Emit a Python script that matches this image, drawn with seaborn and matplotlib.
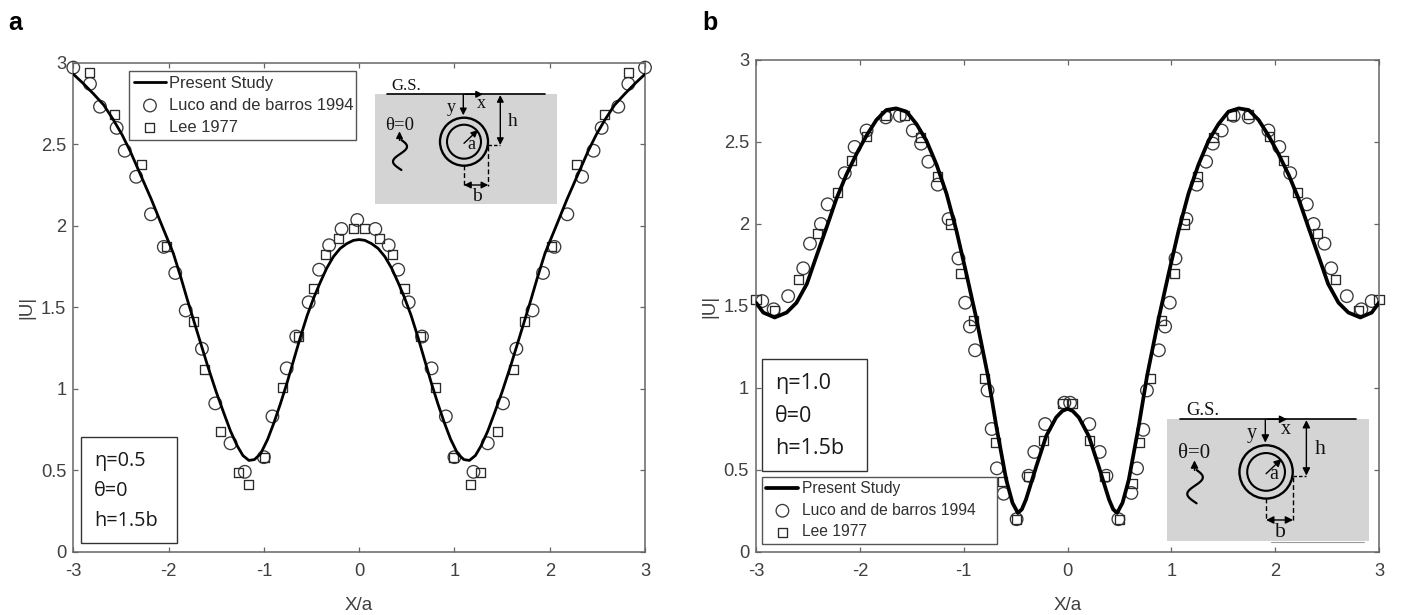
import numpy as np
import pandas as pd
import seaborn as sns
import matplotlib.pyplot as plt
from matplotlib.patches import Rectangle, Circle

W, H = 1401, 615

# panel a
a_line_x = [-3, -2.9, -2.79, -2.68, -2.58, -2.49, -2.405, -2.27, -2.18, -2.09, -1.95, -1.87, -1.8, -1.69, -1.59, -1.5, -1.42, -1.35, -1.28, -1.22, -1.157, -1.1, -1.035, -0.96, -0.895, -0.825, -0.755, -0.685, -0.615, -0.545, -0.475, -0.41, -0.34, -0.27, -0.2, -0.13, -0.06, 0,
            0.06, 0.13, 0.2, 0.27, 0.34, 0.41, 0.475, 0.545, 0.615, 0.685, 0.755, 0.825, 0.895, 0.96, 1.035, 1.1, 1.157, 1.22, 1.28, 1.35, 1.42, 1.5, 1.59, 1.69, 1.8, 1.87, 1.95, 2.09, 2.18, 2.27, 2.405, 2.49, 2.58, 2.68, 2.79, 2.9, 3]
a_line_y = [2.93, 2.875, 2.81, 2.74, 2.65, 2.56, 2.46, 2.28, 2.16, 2.03, 1.83, 1.68, 1.54, 1.33, 1.14, 0.98, 0.85, 0.74, 0.65, 0.59, 0.56, 0.565, 0.6, 0.69, 0.79, 0.91, 1.04, 1.18, 1.32, 1.45, 1.56, 1.65, 1.74, 1.81, 1.86, 1.89, 1.91, 1.915,
            1.91, 1.89, 1.86, 1.81, 1.74, 1.65, 1.56, 1.45, 1.32, 1.18, 1.04, 0.91, 0.79, 0.69, 0.6, 0.565, 0.56, 0.59, 0.65, 0.74, 0.85, 0.98, 1.14, 1.33, 1.54, 1.68, 1.83, 2.03, 2.16, 2.28, 2.46, 2.56, 2.65, 2.74, 2.81, 2.875, 2.93]
a_luco_x = [-3, -2.825, -2.72, -2.545, -2.46, -2.34, -2.185, -2.05, -1.93, -1.82, -1.65, -1.51, -1.35, -1.2, -1.0, -0.91, -0.76, -0.66, -0.53, -0.42, -0.315, -0.185, -0.02,
            0.17, 0.31, 0.41, 0.52, 0.66, 0.76, 0.91, 1.0, 1.2, 1.35, 1.51, 1.65, 1.82, 1.93, 2.05, 2.185, 2.34, 2.46, 2.545, 2.72, 2.825, 3]
a_luco_y = [2.97, 2.87, 2.73, 2.6, 2.46, 2.3, 2.07, 1.87, 1.71, 1.48, 1.245, 0.91, 0.665, 0.49, 0.58, 0.83, 1.125, 1.32, 1.53, 1.73, 1.88, 1.98, 2.035,
            1.98, 1.88, 1.73, 1.53, 1.32, 1.125, 0.83, 0.58, 0.49, 0.665, 0.91, 1.245, 1.48, 1.71, 1.87, 2.07, 2.3, 2.46, 2.6, 2.73, 2.87, 2.97]
a_lee_x = [-2.83, -2.57, -2.28, -2.02, -1.74, -1.62, -1.45, -1.27, -1.165, -0.99, -0.8, -0.64, -0.48, -0.35, -0.22, -0.06,
           0.06, 0.21, 0.35, 0.48, 0.64, 0.8, 0.99, 1.165, 1.27, 1.45, 1.62, 1.74, 2.02, 2.28, 2.57, 2.83]
a_lee_y = [2.94, 2.68, 2.375, 1.875, 1.41, 1.12, 0.74, 0.485, 0.415, 0.58, 1.01, 1.32, 1.615, 1.825, 1.92, 1.98,
           1.98, 1.92, 1.825, 1.615, 1.32, 1.01, 0.58, 0.415, 0.485, 0.74, 1.12, 1.41, 1.875, 2.375, 2.68, 2.94]

# panel b
b_line_x = [-3, -2.93, -2.82, -2.705, -2.61, -2.51, -2.42, -2.32, -2.225, -2.13, -2.03, -1.935, -1.84, -1.745, -1.65, -1.55, -1.455, -1.36, -1.26, -1.165, -1.07, -0.975, -0.88, -0.766, -0.686, -0.59, -0.53, -0.478, -0.44, -0.4, -0.3, -0.205, -0.11, -0.05, 0,
            0.05, 0.11, 0.205, 0.3, 0.4, 0.44, 0.478, 0.53, 0.59, 0.686, 0.766, 0.88, 0.975, 1.07, 1.165, 1.26, 1.36, 1.455, 1.55, 1.65, 1.745, 1.84, 1.935, 2.03, 2.13, 2.225, 2.32, 2.42, 2.51, 2.61, 2.705, 2.82, 2.93, 3]
b_line_y = [1.52, 1.46, 1.43, 1.46, 1.52, 1.635, 1.8, 1.98, 2.155, 2.3, 2.43, 2.54, 2.635, 2.695, 2.705, 2.685, 2.61, 2.51, 2.36, 2.185, 1.96, 1.7, 1.43, 1.073, 0.768, 0.44, 0.3, 0.238, 0.26, 0.32, 0.523, 0.707, 0.82, 0.86, 0.873,
            0.86, 0.82, 0.707, 0.523, 0.32, 0.26, 0.238, 0.3, 0.44, 0.768, 1.073, 1.43, 1.7, 1.96, 2.185, 2.36, 2.51, 2.61, 2.685, 2.705, 2.695, 2.635, 2.54, 2.43, 2.3, 2.155, 1.98, 1.8, 1.635, 1.52, 1.46, 1.43, 1.46, 1.52]
b_luco_x = [-2.94, -2.83, -2.69, -2.545, -2.48, -2.375, -2.31, -2.145, -2.05, -1.935, -1.75, -1.615, -1.49, -1.41, -1.34, -1.25, -1.145, -1.05, -0.985, -0.94, -0.89, -0.77, -0.73, -0.68, -0.615, -0.49, -0.375, -0.32, -0.215, -0.03,
            0.025, 0.21, 0.31, 0.375, 0.49, 0.615, 0.67, 0.73, 0.765, 0.88, 0.94, 0.985, 1.04, 1.145, 1.245, 1.335, 1.4, 1.485, 1.6, 1.745, 1.935, 2.04, 2.145, 2.305, 2.37, 2.475, 2.54, 2.69, 2.83, 2.93]
b_luco_y = [1.53, 1.48, 1.56, 1.73, 1.88, 2.0, 2.12, 2.31, 2.47, 2.57, 2.65, 2.66, 2.57, 2.49, 2.38, 2.24, 2.03, 1.79, 1.52, 1.375, 1.23, 0.985, 0.75, 0.51, 0.355, 0.2, 0.465, 0.61, 0.78, 0.91,
            0.91, 0.78, 0.61, 0.465, 0.2, 0.36, 0.51, 0.745, 0.985, 1.23, 1.375, 1.52, 1.79, 2.03, 2.24, 2.38, 2.49, 2.57, 2.66, 2.65, 2.57, 2.47, 2.31, 2.12, 2.0, 1.88, 1.73, 1.56, 1.48, 1.53]
b_lee_x = [-3, -2.82, -2.59, -2.41, -2.215, -2.08, -1.94, -1.75, -1.57, -1.415, -1.25, -1.13, -1.03, -0.91, -0.8, -0.695, -0.63, -0.49, -0.375, -0.23, -0.05,
           0.05, 0.21, 0.36, 0.5, 0.625, 0.69, 0.8, 0.91, 1.03, 1.125, 1.25, 1.41, 1.575, 1.745, 1.945, 2.08, 2.215, 2.41, 2.58, 2.805, 3]
b_lee_y = [1.54, 1.47, 1.66, 1.94, 2.19, 2.39, 2.535, 2.66, 2.66, 2.53, 2.29, 2.0, 1.7, 1.41, 1.06, 0.665, 0.43, 0.2, 0.46, 0.68, 0.905,
           0.905, 0.68, 0.46, 0.2, 0.42, 0.665, 1.06, 1.41, 1.7, 2.0, 2.29, 2.53, 2.66, 2.67, 2.535, 2.39, 2.19, 1.94, 1.66, 1.47, 1.54]

x_ticks = [-3, -2, -1, 0, 1, 2, 3]
y_ticks = [0, 0.5, 1, 1.5, 2, 2.5, 3]
y_tick_labels = ['0', '0.5', '1', '1.5', '2', '2.5', '3']
series_names = ['Present Study', 'Luco and de barros 1994', 'Lee 1977']

sns.set_theme(style='white')
plt.rcParams['font.family'] = ['Liberation Sans', 'DejaVu Sans']
plt.rcParams['axes.unicode_minus'] = False

fig = plt.figure(figsize=(W / 100, H / 100), dpi=100)


def px_axes(left, right, top, bottom):
    return fig.add_axes([left / W, 1 - bottom / H, (right - left) / W, (bottom - top) / H])


def draw_panel(ax, line_x, line_y, luco_x, luco_y, lee_x, lee_y, lw, label_x):
    sns.scatterplot(x=luco_x, y=luco_y, ax=ax, marker='o', s=82, facecolors='none',
                    edgecolor='#3a3a3a', linewidth=0.95, label=series_names[1], zorder=2, clip_on=False)
    sns.scatterplot(x=lee_x, y=lee_y, ax=ax, marker='s', s=42, facecolors='none',
                    edgecolor='#2a2a2a', linewidth=0.95, label=series_names[2], zorder=2, clip_on=False)
    sns.lineplot(x=line_x, y=line_y, ax=ax, color='black', linewidth=lw, sort=False,
                 estimator=None, label=series_names[0], zorder=3)
    ax.set_xlim(-3, 3)
    ax.set_ylim(0, 3)
    ax.set_xticks(x_ticks)
    ax.set_yticks(y_ticks)
    ax.set_yticklabels(y_tick_labels)
    ax.tick_params(direction='in', length=3.5, width=0.9, color='#666666', labelcolor='#404040',
                   labelsize=13.2, top=True, right=True, left=True, bottom=True)
    ax.tick_params(axis='x', pad=8)
    ax.tick_params(axis='y', pad=5)
    for s in ax.spines.values():
        s.set_color('#666666')
        s.set_linewidth(1.1)
    ax.set_xlabel('X/a', fontsize=13.5, color='#404040')
    ax.set_ylabel('|U|', fontsize=13.5, color='#404040')
    ax.xaxis.set_label_coords(0.5, -0.092)
    ax.yaxis.set_label_coords(label_x, 0.5)


def draw_legend(ax, left, right, top, bottom, fontsize, handle_len, align):
    handles, labels = ax.get_legend_handles_labels()
    order = [labels.index(n) for n in series_names]
    box = (left / W, 1 - bottom / H, (right - left) / W, (bottom - top) / H)
    leg = ax.legend([handles[i] for i in order], [labels[i] for i in order], loc='center left',
                    bbox_to_anchor=box, bbox_transform=fig.transFigure, mode='expand',
                    fontsize=fontsize, fancybox=False, framealpha=1, edgecolor='#555555',
                    handlelength=handle_len, handletextpad=0.2, labelspacing=0.42, borderaxespad=0,
                    borderpad=0.3, labelcolor='#303030', alignment=align)
    leg.get_frame().set_linewidth(1.0)
    leg.set_zorder(5)


ax_a = px_axes(73.3, 645, 62.7, 551.7)
ax_b = px_axes(756, 1379, 60, 552)
draw_panel(ax_a, a_line_x, a_line_y, a_luco_x, a_luco_y, a_lee_x, a_lee_y, 2.0, -0.066)
draw_panel(ax_b, b_line_x, b_line_y, b_luco_x, b_luco_y, b_lee_x, b_lee_y, 2.7, -0.06)
draw_legend(ax_a, 129.3, 356, 70.7, 140, 11.9, 1.9, 'left')
draw_legend(ax_b, 761.7, 996.7, 476.7, 544, 11.25, 2.05, 'center')

# overlay in image pixels for the notes and the sketches
ov = fig.add_axes([0, 0, 1, 1], zorder=10)
ov.set_xlim(0, W)
ov.set_ylim(H, 0)
ov.axis('off')
ov.patch.set_alpha(0)

ov.text(8, 23, 'a', fontsize=18, fontweight='bold', color='black', va='center')
ov.text(702, 23, 'b', fontsize=18, fontweight='bold', color='black', va='center')


def note_box(left, right, top, bottom, lines, fontsize, step):
    ov.add_patch(Rectangle((left, top), right - left, bottom - top, fc='white', ec='#333333', lw=1.0))
    y = top + step * 0.72 + 2
    for t in lines:
        ov.text(left + 13, y, t, fontsize=fontsize, color='#1a1a1a', va='center',
                family=['Open Sans', 'DejaVu Sans'])
        y += step


note_box(81, 177, 437, 543, ['η=0.5', 'θ=0', 'h=1.5b'], 14.3, 30)
note_box(762, 867, 358.5, 470.5, ['η=1.0', 'θ=0', 'h=1.5b'], 15.5, 32.5)


def draw_sketch(x0, y0, k):
    def X(v):
        return x0 + v * k

    def Y(v):
        return y0 + v * k

    def arrow(x1, y1, x2, y2, style='-|>'):
        ov.annotate('', xy=(X(x2), Y(y2)), xytext=(X(x1), Y(y1)),
                    arrowprops=dict(arrowstyle=style, color='black', lw=1.0, shrinkA=0, shrinkB=0,
                                    mutation_scale=10 * k))

    def label(x, y, t, size=11):
        ov.text(X(x), Y(y), t, fontsize=size * k, color='#111111', ha='center', va='center',
                family=['Liberation Serif', 'DejaVu Serif'])

    ov.add_patch(Rectangle((x0, y0), 182 * k, 109.4 * k, fc='#d4d4d4', ec='none'))
    ov.plot([X(11.7), X(170)], [Y(0), Y(0)], color='black', lw=1.2)
    arrow(90, 0, 108, 0)
    arrow(88.3, 0, 88.3, 21)
    arrow(125.3, 0.7, 125.3, 50.7, '<|-|>')
    ov.add_patch(Circle((X(89), Y(47.4)), 23 * k, fc='white', ec='none', zorder=0.5))
    arrow(89, 49, 103, 35.7)
    for r, lw in ((24, 1.7), (17, 1.5)):
        ov.add_patch(Circle((X(89), Y(47.4)), r * k, fc='none', ec='black', lw=lw))
    ov.plot([X(113.3), X(125.3)], [Y(50.7), Y(50.7)], color='black', lw=1, ls=(0, (2.5, 1.5)))
    ov.plot([X(113.3), X(113.3)], [Y(52), Y(92)], color='black', lw=1, ls=(0, (3.5, 2)))
    ov.plot([X(89), X(89)], [Y(71), Y(92)], color='black', lw=1, ls=(0, (3.5, 2)))
    arrow(89, 90.7, 113.3, 90.7, '<|-|>')
    arrow(24.5, 46, 24.5, 37)
    t = np.linspace(0, 2 * np.pi, 50)
    ov.plot(X(25) + 7 * k * np.sin(t + 0.2), Y(45.7) + np.linspace(0, 30, 50) * k, color='black', lw=1.6)
    label(31.7, -8.3, 'G.S.', 12)
    label(76.4, 13, 'y', 13)
    label(106.7, 9, 'x', 13)
    label(137.7, 27.4, 'h', 14)
    label(96, 50, 'a', 13)
    label(101.7, 102.4, 'b', 14)
    label(24.3, 30.7, 'θ=0', 13.5)


draw_sketch(375, 94.3, 1.0)
draw_sketch(1167.3, 419.3, 1.11)
ov.plot([1271, 1364], [541.7, 541.7], color='#9a9a9a', lw=0.8)

fig.savefig('out.png', dpi=100)
